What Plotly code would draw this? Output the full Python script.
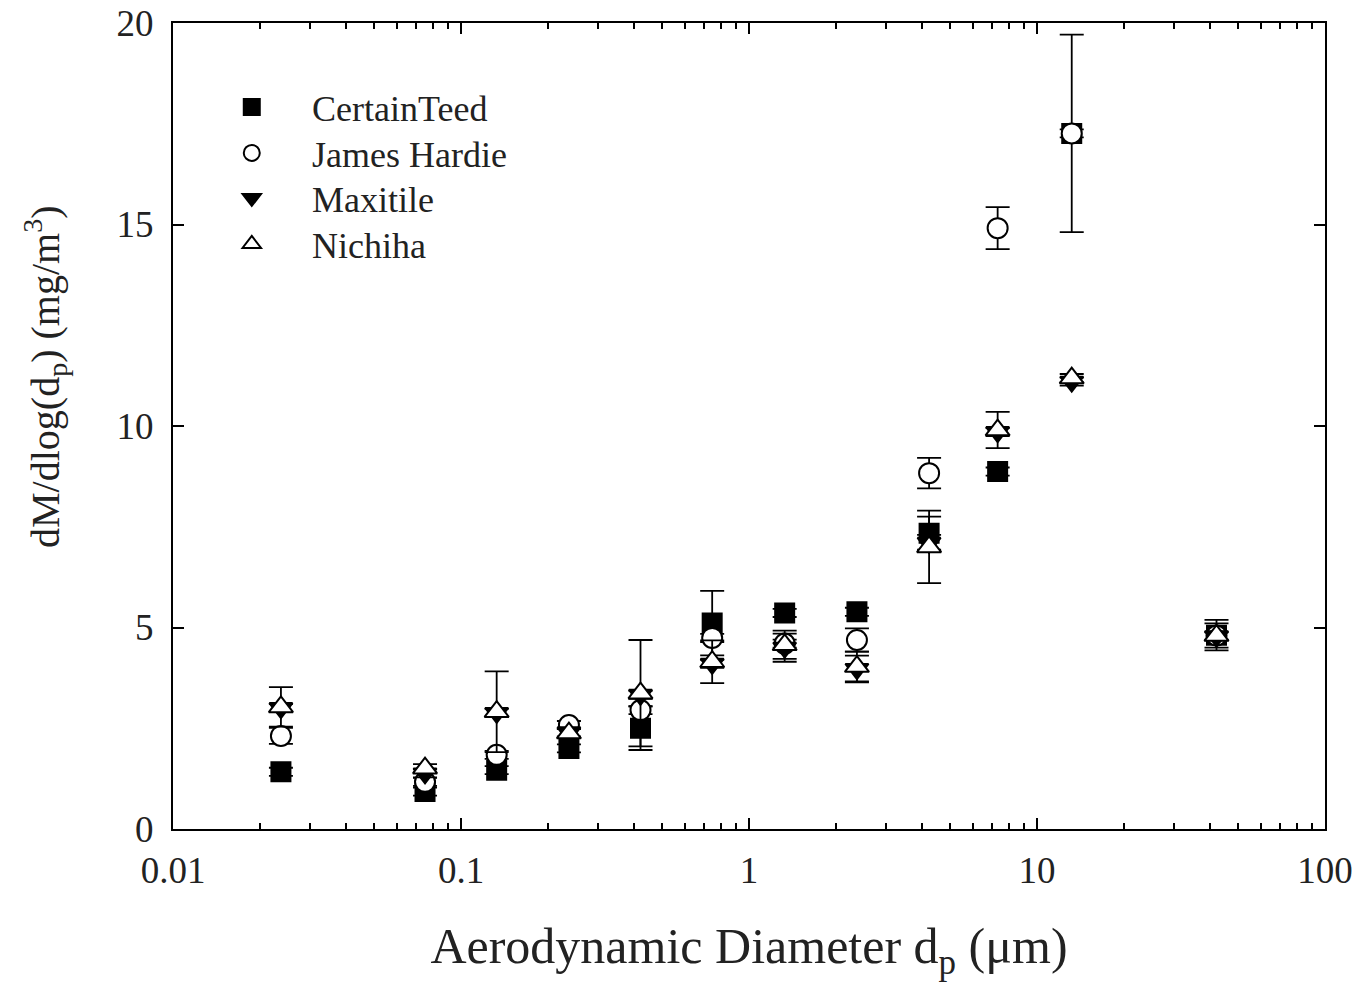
import plotly.graph_objects as go

# Aerodynamic diameter (µm) of each impactor stage
dp = [0.0237, 0.075, 0.133, 0.237, 0.42, 0.745, 1.33, 2.37, 4.22, 7.3, 13.2, 42.0]

certainteed = [1.42, 0.93, 1.46, 2.0, 2.5, 5.11, 5.36, 5.39, 7.34, 8.87, 17.26, 4.81]
certainteed_err = [0.1, 0.1, 0.1, 0.1, 0.54, 0.8, 0.1, 0.1, 0.41, 0.1, 0.1, 0.38]

james_hardie = [2.31, 1.17, 1.84, 2.58, 2.95, 4.74, 4.6, 4.69, 8.83, 14.91, 17.26, 4.8]
james_hardie_err = [0.2, 0.1, 0.1, 0.1, 0.1, 0.1, 0.1, 0.29, 0.38, 0.52, 2.45, 0.3]

maxitile = [3.0, 1.38, 2.88, 2.4, 3.33, 4.1, 4.5, 3.97, 7.1, 9.85, 11.1, 4.78]
maxitile_err = [0.1, 0.1, 0.1, 0.1, 0.1, 0.1, 0.35, 0.33, 0.2, 0.1, 0.1, 0.1]

nichiha = [3.03, 1.51, 2.91, 2.38, 3.37, 4.15, 4.57, 4.03, 7.0, 9.9, 11.19, 4.8]
nichiha_err = [0.49, 0.1, 1.0, 0.1, 1.32, 0.53, 0.35, 0.37, 0.9, 0.45, 0.1, 0.1]

names = ["CertainTeed", "James Hardie", "Maxitile", "Nichiha"]
series = [certainteed, james_hardie, maxitile, nichiha]
errors = [certainteed_err, james_hardie_err, maxitile_err, nichiha_err]
symbols = ["square", "circle", "triangle-down", "triangle-up"]
fills = ["black", "white", "black", "white"]
sizes = [19, 20, 20, 21]

FONT = "Liberation Serif, Times New Roman, serif"
legend_ids = ["legend", "legend2", "legend3", "legend4"]
legend_rows = [0.8958, 0.8387, 0.7829, 0.7258]

fig = go.Figure()
for nm, ys, es, sym, fc, sz, lg in zip(names, series, errors, symbols, fills, sizes, legend_ids):
    fig.add_trace(go.Scatter(
        x=dp, y=ys, mode="markers", name="\u2002\u2009" + nm, legend=lg,
        marker=dict(symbol=sym, size=sz, color=fc,
                    line=dict(color="black", width=2)),
        error_y=dict(type="data", array=es, visible=True, color="black",
                     thickness=1.8, width=12),
    ))

legend_layout = {}
for lg, yrow in zip(legend_ids, legend_rows):
    legend_layout[lg] = dict(x=0.038, y=yrow, xanchor="left", yanchor="middle",
                             bgcolor="rgba(0,0,0,0)",
                             font=dict(size=36, family=FONT, color="#222"),
                             itemwidth=60)

fig.update_layout(
    width=1369, height=996,
    margin=dict(l=173, r=44, t=23, b=167),
    paper_bgcolor="white", plot_bgcolor="white",
    font=dict(family=FONT, color="#222", size=36),
    showlegend=True,
    **legend_layout,
    xaxis=dict(
        type="log", range=[-2, 2],
        tickvals=[0.01, 0.1, 1, 10, 100],
        ticktext=["0.01", "0.1", "1", "10", "100"],
        ticks="inside", ticklen=11, tickwidth=1.5, tickcolor="black",
        minor=dict(ticks="inside", ticklen=6, tickwidth=1.5, tickcolor="black",
                   tickvals=[m * 10 ** e for e in (-2, -1, 0, 1) for m in range(2, 10)]),
        showline=True, linecolor="black", linewidth=2, mirror="allticks",
        showgrid=False, zeroline=False,
        tickfont=dict(size=37, family=FONT), ticklabelstandoff=8,
        title=dict(text="Aerodynamic Diameter d<sub>p</sub> (μm)",
                   font=dict(size=50, family=FONT), standoff=38),
    ),
    yaxis=dict(
        range=[0, 20], tickvals=[0, 5, 10, 15, 20],
        ticks="inside", ticklen=11, tickwidth=1.5, tickcolor="black",
        showline=True, linecolor="black", linewidth=2, mirror="allticks",
        showgrid=False, zeroline=False, automargin=False,
        tickfont=dict(size=37, family=FONT), ticklabelstandoff=10,
    ),
    annotations=[dict(
        text="dM/dlog(d<sub>p</sub>) (mg/m<sup>3</sup>)",
        xref="paper", yref="paper", x=-0.111, y=0.561,
        xanchor="center", yanchor="middle", textangle=-90, showarrow=False,
        font=dict(size=40, family=FONT, color="#222"),
    )],
)

fig.write_html("out.html")
